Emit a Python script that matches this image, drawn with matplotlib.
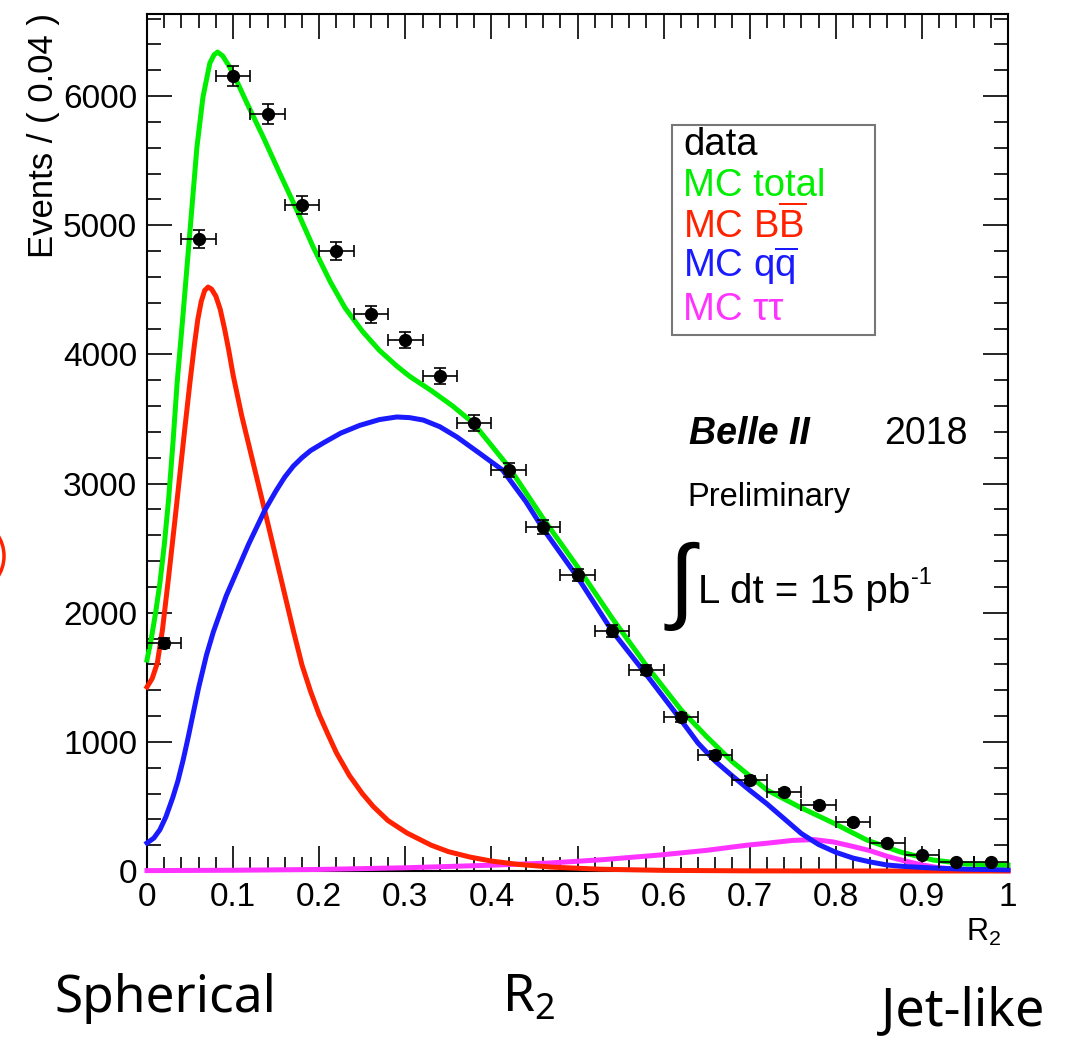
# belle2_r2.py

""" R2 distribution, Belle II 2018 data vs MC """

import numpy as np
import matplotlib
matplotlib.use("Agg")
import matplotlib.pyplot as plt
from matplotlib.patches import Rectangle, Arc
from matplotlib.ticker import MultipleLocator

plt.rcParams['font.family'] = ['Liberation Sans', 'DejaVu Sans']
plt.rcParams['mathtext.fontset'] = 'custom'
plt.rcParams['mathtext.rm'] = 'Liberation Sans'
plt.rcParams['mathtext.default'] = 'regular'

# data points (bin centres, bin width 0.04)
data_x = [0.02, 0.06, 0.10, 0.14, 0.18, 0.22, 0.26, 0.30, 0.34, 0.38, 0.42, 0.46, 0.50,
          0.54, 0.58, 0.62, 0.66, 0.70, 0.74, 0.78, 0.82, 0.86, 0.90, 0.94, 0.98]
data_y = [1765, 4890, 6155, 5860, 5156, 4800, 4312, 4111, 3832, 3468, 3104, 2663, 2292,
          1858, 1556, 1192, 898, 705, 612, 511, 379, 217, 124, 70, 70]
data_yerr = [42, 70, 78, 77, 72, 69, 66, 64, 62, 59, 56, 52, 48,
             43, 39, 35, 30, 27, 25, 23, 19, 15, 11, 8, 8]
data_xerr = 0.02

# MC total (green)
tot_x = [0, 0.005, 0.010, 0.015, 0.020, 0.025, 0.030, 0.035, 0.042, 0.050, 0.058, 0.065,
         0.073, 0.078, 0.082, 0.088, 0.096, 0.106, 0.116, 0.135, 0.154, 0.174, 0.193,
         0.213, 0.23, 0.25, 0.27, 0.29, 0.305, 0.33, 0.355, 0.379, 0.42, 0.46, 0.50,
         0.54, 0.58, 0.62, 0.65, 0.68, 0.720, 0.758, 0.797, 0.836, 0.875, 0.913, 0.952, 1.0]
tot_y = [1633, 1800, 2000, 2230, 2520, 2870, 3300, 3780, 4320, 4962, 5605, 5992,
         6255, 6320, 6340, 6310, 6224, 6090, 5946, 5682, 5404, 5117, 4831,
         4560, 4360, 4180, 4030, 3910, 3830, 3720, 3600, 3468, 3130, 2730, 2355,
         1960, 1590, 1250, 1040, 845, 627, 495, 372, 240, 147, 85, 54, 46]

# MC BBbar (red)
bb_x = [0, 0.006, 0.012, 0.018, 0.025, 0.032, 0.038, 0.044, 0.050, 0.055, 0.059, 0.063,
        0.067, 0.071, 0.075, 0.080, 0.085, 0.090, 0.095, 0.100, 0.11, 0.12, 0.13, 0.14,
        0.15, 0.16, 0.17, 0.18, 0.19, 0.20, 0.21, 0.22, 0.235, 0.25, 0.263, 0.28, 0.302,
        0.33, 0.35, 0.375, 0.40, 0.43, 0.47, 0.526, 0.6, 0.7, 0.8, 1.0]
bb_y = [1425, 1490, 1610, 1870, 2270, 2690, 3060, 3430, 3790, 4070, 4270, 4410,
        4495, 4521, 4505, 4450, 4350, 4200, 4030, 3840, 3525, 3250, 2975, 2700,
        2420, 2140, 1860, 1595, 1390, 1210, 1060, 915, 740, 600, 498, 390, 294,
        200, 150, 108, 77, 52, 30, 14, 5, 1, 0, 0]

# MC qqbar (blue)
qq_x = [0, 0.008, 0.015, 0.022, 0.030, 0.036, 0.042, 0.048, 0.053, 0.060, 0.069, 0.077,
        0.085, 0.092, 0.100, 0.118, 0.137, 0.15, 0.16, 0.17, 0.18, 0.19, 0.205, 0.225,
        0.247, 0.27, 0.290, 0.305, 0.321, 0.340, 0.360, 0.385, 0.413, 0.44, 0.46, 0.50,
        0.54, 0.58, 0.62, 0.64, 0.66, 0.68, 0.70, 0.72, 0.74, 0.76, 0.78, 0.80, 0.82,
        0.84, 0.86, 0.88, 0.913, 0.95, 1.0]
qq_y = [217, 255, 320, 420, 570, 700, 860, 1040, 1200, 1420, 1670, 1850,
        2000, 2130, 2253, 2530, 2795, 2945, 3050, 3135, 3200, 3255, 3315, 3390,
        3450, 3495, 3515, 3510, 3491, 3440, 3360, 3240, 3104, 2860, 2650, 2275,
        1860, 1520, 1170, 990, 850, 735, 625, 520, 405, 290, 205, 145, 100,
        70, 46, 35, 23, 14, 9]

# MC tautau (magenta)
tt_x = [0, 0.1, 0.2, 0.3, 0.4, 0.468, 0.53, 0.596, 0.65, 0.697, 0.72, 0.75, 0.775, 0.797,
        0.82, 0.84, 0.86, 0.88, 0.90, 0.92, 0.95, 1.0]
tt_y = [3, 6, 12, 25, 45, 62, 88, 124, 160, 200, 215, 237, 243, 225,
        190, 157, 113, 78, 47, 25, 9, 2]

W, H = 1080, 1037
fig = plt.figure(figsize=(W/100, H/100), dpi=100)
ax = fig.add_axes([147/W, 1-871/H, 861/W, 857/H])

def fx(px):
    return px/W

def fy(py):
    return 1 - py/H

lw = 3.6
ax.plot(tt_x, tt_y, color='#ff33ff', lw=lw, clip_on=False, zorder=3, solid_joinstyle='round')
ax.plot(bb_x, bb_y, color='#ff2200', lw=lw, clip_on=False, zorder=3, solid_joinstyle='round')
ax.plot(qq_x, qq_y, color='#1a1aff', lw=lw, clip_on=False, zorder=3, solid_joinstyle='round')
ax.plot(tot_x, tot_y, color='#00ee00', lw=lw, clip_on=False, zorder=3, solid_joinstyle='round')
ax.errorbar(data_x, data_y, xerr=data_xerr, yerr=data_yerr, fmt='o', color='black',
            ms=8.5, elinewidth=1.2, capsize=4, capthick=1.2, zorder=4)

ax.set_xlim(0, 1)
ax.set_ylim(0, 6635)
ax.xaxis.set_minor_locator(MultipleLocator(0.02))
ax.yaxis.set_major_locator(MultipleLocator(1000))
ax.yaxis.set_minor_locator(MultipleLocator(200))
ax.set_xticks(np.arange(0, 1.01, 0.1))
ax.set_xticklabels(['0', '0.1', '0.2', '0.3', '0.4', '0.5', '0.6', '0.7', '0.8', '0.9', '1'])
ax.tick_params(which='both', direction='in', top=True, right=True, width=1.2,
               labelsize=24, color='black')
ax.tick_params(which='major', length=18)
ax.tick_params(which='minor', length=10)
ax.tick_params(axis='x', pad=8)
ax.tick_params(axis='y', pad=7)
for s in ax.spines.values():
    s.set_linewidth(1.5)

fig.text(fx(44), fy(13), 'Events / ( 0.04 )', rotation=90, ha='center', va='top', fontsize=25)
fig.text(fx(966), fy(941), r'$\mathregular{R_2}$', ha='left', va='baseline', fontsize=22)

# legend box
bx0, by0 = (672-147)/861, (871-335)/857
ax.add_patch(Rectangle((bx0, by0), 203/861, 210/857, transform=ax.transAxes,
                       fill=False, edgecolor='#777777', lw=1.5, zorder=5))
leg_items = [('data', 'black', 155), ('MC total', '#00ee00', 196),
             (r'MC B$\overline{B}$', '#ff2200', 238), (r'MC q$\overline{q}$', '#1a1aff', 277),
             ('MC ττ', '#ff33ff', 320)]
for txt, col, yb in leg_items:
    fig.text(fx(683), fy(yb), txt, color=col, fontsize=27.5, ha='left', va='baseline')

fig.text(fx(689), fy(444), 'Belle II', fontsize=27, weight='bold', style='italic', va='baseline')
fig.text(fx(884), fy(444), '2018', fontsize=27, va='baseline')
fig.text(fx(687), fy(506), 'Preliminary', fontsize=23.5, va='baseline')
fig.text(fx(681), fy(586), '∫', fontsize=68, family='Liberation Sans', va='center', ha='center')
fig.text(fx(698), fy(603), 'L dt = 15 pb', fontsize=29, va='baseline')
fig.text(fx(911), fy(584), '-1', fontsize=17, va='baseline')

# slide labels
fig.text(fx(54), fy(1012), 'Spherical', fontsize=37, family='Noto Sans', va='baseline')
fig.text(fx(502), fy(1012), r'$\mathregular{R_2}$', fontsize=37, family='Noto Sans', va='baseline')
fig.text(fx(881), fy(1025), 'Jet-like', fontsize=37.5, family='Noto Sans', va='baseline')

fig.add_artist(Arc((fx(-22), fy(556)), fx(52), 64/H, theta1=-50, theta2=50,
                   color='#ff2200', lw=2.5))

fig.savefig('out.png', dpi=100)
